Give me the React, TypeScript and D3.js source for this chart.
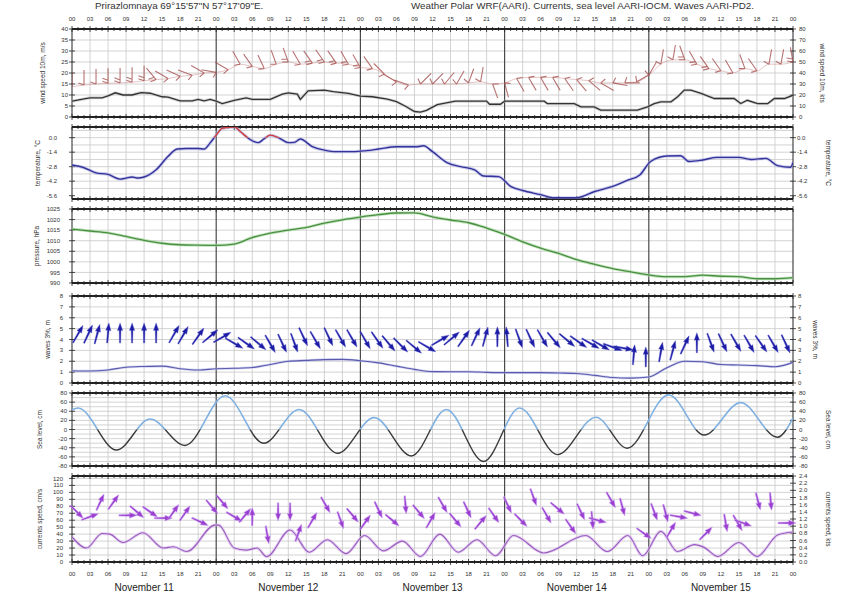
import React from 'react';
import * as d3 from 'd3';

const FONT = "'Liberation Sans', Arial, Helvetica, sans-serif";

const titleLeft = 'Prirazlomnaya 69°15\'57"N 57°17\'09"E.';
const titleRight = 'Weather Polar WRF(AARI). Currents, sea level AARI-IOCM. Waves AARI-PD2.';
const hourLabels = ['00', '03', '06', '09', '12', '15', '18', '21'];
const dayLabels = ['November 11', 'November 12', 'November 13', 'November 14', 'November 15'];

// wind speed 10 m, m/s
const windHours = [0,2,3,5,6,7.2,8.5,10,11.5,13,15,16,18,20,21,22,23,24,25,27,29,30,33,35,36,37.5,38,39.3,42,43.5,46,48,50,52.5,54,55.5,57,58,59,60.8,63.8,69,69.5,71.3,72,78.6,79.1,83.6,84.7,86.9,88,94.1,95.8,96.9,98,99.7,100.8,101.9,103,104.7,106.9,110.2,111.3,112.4,114.1,115.8,116.9,118.6,120];
const windSpeed = [7.2,8.2,8.7,8.7,9.6,11,10,10,11.1,10.8,9.2,9,7.3,7.3,8,7.3,8,7.2,6.1,7.6,8.7,8,8,10.4,11,10.4,8,11.9,12.2,11.5,10.7,9.5,9.2,8.1,7,4.9,2.5,2.2,3,5.6,7.2,7.2,5.8,5.8,7.2,7.2,6.1,6.1,4.6,4.6,3.1,3.1,4.6,6.1,6.9,6.9,9.2,12.2,12.2,10.7,8.4,8.4,6.1,7.6,6.1,6.1,8.4,8.4,9.9];

// wind barbs (every 2 h): anchor level (m/s axis), staff direction (deg clockwise from up)
const barbHours = d3.range(0, 121, 2);
const barbLevel = [13.8,14.5,15,15.3,15.5,15.8,16.5,17,17.5,18.5,19,20,20.3,
  21.5,24,23,22,24,25,24,24.5,25,24.5,24,22.5,22,19.5,16,14.5,
  15,15,15,15,15.5,16,15,15.5,
  17.5,18,18,18,17.5,17,16.5,15.5,15.5,15.5,16,19,
  24,26,26,24,22,21,20,22,21,24,24,25];
const barbDir = [0,0,0,0,0,0,0,-40,-60,-65,-70,-60,-80,
  -60,-30,-35,-25,-20,-20,-30,-35,-35,-35,-30,-30,-35,-45,-60,-70,
  45,45,40,30,20,10,160,165,
  150,150,150,150,145,140,130,120,100,90,60,30,
  10,10,-20,-30,-35,-35,-30,-20,-35,10,10,-10];

// temperature, °C
const tempHours = [0,2,4,6,8,9,10,11,12,14,16,17.5,19,21,22,23,24,25,27,28,29.7,31,32,33,34.5,36,37,38,40,42,44,47,49,51,54,57.5,58.5,60,62.4,64.7,67,68.5,71,73,75,78,80,84,87,90,92.5,94.5,96.3,99,101.3,102.7,105,107.4,111,113,115.5,117.4,119.6,120];
const tempValues = [-2.64,-2.9,-3.4,-3.55,-4.0,-3.9,-3.8,-3.9,-3.8,-3.1,-1.8,-1.1,-1.05,-1.05,-1.1,-0.5,0.25,0.9,1.05,0.6,-0.2,-0.48,-0.1,0.25,-0.05,-0.48,-0.45,-0.13,-0.87,-1.2,-1.35,-1.35,-1.25,-1.1,-0.87,-0.87,-0.78,-1.35,-2.4,-2.8,-3.1,-3.7,-3.76,-4.7,-5.1,-5.5,-5.8,-5.8,-5.2,-4.7,-4.1,-3.6,-2.3,-1.77,-1.75,-2.3,-2.15,-1.9,-1.9,-2.1,-2.0,-2.7,-2.86,-2.4];

// pressure, hPa
const pressHours = d3.range(0, 121, 3);
const pressValues = [1015.5,1014.6,1013.7,1012,1010.2,1008.8,1008.1,1007.9,1007.8,1008.4,1011.5,1013.6,1015,1016.3,1018.3,1019.9,1021.2,1022.3,1023.1,1023.2,1021.3,1019.8,1018.5,1016,1013,1009.5,1006.5,1004,1001,998.8,996.8,995.3,993.8,993,993,993.7,993.2,993,992,992,992.5];

// waves 3%, m
const waveHours = d3.range(0, 121, 3);
const waveHeight = [1.13,1.1,1.2,1.45,1.52,1.55,1.31,1.19,1.31,1.35,1.42,1.7,2.0,2.08,2.15,2.17,2.05,1.85,1.55,1.25,1.05,1.04,1.04,0.98,0.95,0.95,0.95,0.92,0.88,0.7,0.5,0.45,0.55,1.4,2.0,1.95,1.7,1.65,1.6,1.5,1.9];
const waveArrowHours = [1,2.7,4.2,6,8,10,12,14,17,18.5,21,23,25,27,29,31,33,35,37,38.5,40.5,42.7,44.7,46.6,48.8,50.8,52.7,54.7,56.9,59.1,61.3,63.2,65.2,67.2,68.8,70.8,72.4,74.4,76.3,78.3,80.2,82.4,84.3,86.3,88,90,91.8,93.5,95.5,98,100,102,104,106.3,108.3,110.5,112.7,114.7,116.7,118.8];
const waveArrowLevel = [4.5,4.5,4.5,4.6,4.6,4.6,4.6,4.6,4.5,4.4,4.3,4.3,4.2,3.65,3.65,3.65,3.6,3.65,3.7,4.25,3.94,4.25,4.1,4.1,3.94,3.94,3.64,3.49,3.33,3.33,3.94,4.1,4.1,4.25,4.25,4.25,4.25,4.1,4.1,4.1,3.94,3.94,3.79,3.64,3.49,3.3,3.2,2.6,2.4,2.85,3.0,3.5,3.7,3.7,3.7,3.7,3.6,3.6,3.6,3.6];
const waveArrowDir = [30,25,15,5,0,0,0,0,30,30,35,50,60,120,125,130,150,155,160,155,150,155,150,150,150,145,140,135,130,120,60,50,35,25,15,0,-5,160,155,150,140,130,125,120,120,110,100,5,0,10,15,25,0,160,155,150,150,145,150,155];

// sea level, cm (turning points)
const seaHours = [0,1,7.4,13,18.8,25.5,31.9,37.8,44.2,50.3,56.5,62.3,68.5,74.5,80.8,87.2,92.4,99.3,105.2,111.3,117.4,120];
const seaLevel = [43,47,-45,23,-35,74,-30,44,-52,26,-58,44,-70,47,-55,27,-41,76,-12,59,-17,25];

// currents speed, cm/s
const curHours = [0,2.4,5,6.3,8.5,11.8,15.2,16.9,19.1,23.8,24.4,27,29,30.8,32.4,36.3,39.5,42.5,45.6,48.7,51.8,55,58,61.2,64.3,67.4,70.5,73.5,78.5,85.5,89.1,92.5,95,98,100.8,103.6,105.2,107.5,111,114,117.5,120];
const curSpeed = [36,20,41,40,28,42,20,22,15,53,53,20,17,20,7.6,46,14,32,12,38,16,30,8,40,14,32,9,38,13,38,15,38,9,44,15,25,21,8,28,8,39,43];
const curArrowHours = [0.8,3,4.7,6.9,9.3,10.8,13,15.2,16.9,18.8,21.3,23.3,25,27,28.8,30,32.5,34.3,36.3,37.7,40,42.2,44.7,46.7,48.8,51,53.3,55.5,57.7,59.7,61.7,63.8,65.8,68,70.2,72.5,74.7,76.8,79,80.8,83,84.7,86.6,87.5,89.7,91.6,95.2,96.9,98.8,99.7,101,103.3,105.5,108.8,110.8,111.7,114.2,116.3,119];
const curArrowLevel = [72,65,86,86,67,72,72,63,72,70,58,79,86,65,67,65,39,72,72,42,60,82,60,67,57,75,60,82,72,60,82,60,75,57,67,82,60,93,67,77,51,72,60,60,89,79,41,72,70,46,65,70,41,56,56,56,87,87,56];
const curArrowDir = [135,70,25,35,90,130,125,90,35,35,115,140,140,120,40,0,170,180,180,20,30,150,160,140,35,155,130,175,140,30,150,140,155,40,145,155,135,160,150,130,145,155,175,105,150,165,125,160,165,30,100,105,45,170,150,110,165,175,90];

const X0 = 72, X1 = 793;

type Lab = { v: number; t: string };
interface FrameOpts {
  id: string; top: number; bottom: number; y: (v: number) => number;
  grid: number[]; left: Lab[]; leftX: number; right: { y: number; t: string }[]; rightX: number;
  leftTitle: string; leftTitleX: number; rightTitle?: string; rightTitleX?: number;
}

function Frame(o: FrameOpts, x: d3.ScaleLinear<number, number>) {
  const hours = d3.range(0, 121);
  const mid = (o.top + o.bottom) / 2;
  return (
    <g key={o.id}>
      {o.grid.map((v, i) => (
        <line key={'h' + i} x1={X0} x2={X1} y1={o.y(v)} y2={o.y(v)} stroke="#c8c8c8" strokeWidth={0.8} />
      ))}
      {d3.range(3, 120, 3).map((h) => (
        <line key={'v' + h} x1={x(h)} x2={x(h)} y1={o.top} y2={o.bottom}
          stroke={h % 24 === 0 ? '#4a4a4a' : '#c8c8c8'} strokeWidth={h % 24 === 0 ? 1.2 : 0.8} />
      ))}
      <line x1={X0} x2={X0} y1={o.top} y2={o.bottom} stroke="#222" strokeWidth={1} />
      <line x1={X1} x2={X1} y1={o.top} y2={o.bottom} stroke="#222" strokeWidth={1} />
      <line x1={X0} x2={X1} y1={o.top} y2={o.top} stroke="#222" strokeWidth={2} />
      <line x1={X0} x2={X1} y1={o.bottom} y2={o.bottom} stroke="#222" strokeWidth={2} />
      {hours.map((h) => {
        const l = h % 3 === 0 ? 3 : 2;
        return (
          <g key={'t' + h}>
            <line x1={x(h)} x2={x(h)} y1={o.top - l} y2={o.top + l} stroke="#222" strokeWidth={0.8} />
            <line x1={x(h)} x2={x(h)} y1={o.bottom - l} y2={o.bottom + l} stroke="#222" strokeWidth={0.8} />
          </g>
        );
      })}
      {o.left.map((l, i) => (
        <g key={'l' + i}>
          <line x1={X0 - 3} x2={X0 + 3} y1={o.y(l.v)} y2={o.y(l.v)} stroke="#222" strokeWidth={0.8} />
          <text x={o.leftX} y={o.y(l.v)} dy="0.35em" textAnchor="end" fontSize={6} fill="#333" fontFamily={FONT}>{l.t}</text>
        </g>
      ))}
      {o.right.map((r, i) => (
        <g key={'r' + i}>
          <line x1={X1 - 3} x2={X1 + 3} y1={r.y} y2={r.y} stroke="#222" strokeWidth={0.8} />
          <text x={o.rightX} y={r.y} dy="0.35em" textAnchor="start" fontSize={6} fill="#333" fontFamily={FONT}>{r.t}</text>
        </g>
      ))}
      <text transform={`translate(${o.leftTitleX},${mid}) rotate(-90)`} textAnchor="middle" fontSize={6.5} fill="#333" fontFamily={FONT}>{o.leftTitle}</text>
      {o.rightTitle ? (
        <text transform={`translate(${o.rightTitleX},${mid}) rotate(90)`} textAnchor="middle" fontSize={6.5} fill="#333" fontFamily={FONT}>{o.rightTitle}</text>
      ) : null}
    </g>
  );
}

const waveArrowPath = 'M0,-10 L2.6,-2.5 L0.9,-2.8 L0.6,10 L-0.6,10 L-0.9,-2.8 L-2.6,-2.5 Z';
const curArrowPath = 'M0,-9 L2.8,-1.5 L1,-1.8 L0.7,9 L-0.7,9 L-1,-1.8 L-2.8,-1.5 Z';

export default function App() {
  const x = d3.scaleLinear().domain([0, 120]).range([X0, X1]);
  const yW = d3.scaleLinear().domain([0, 40]).range([117, 29]);
  const yT = d3.scaleLinear().domain([-5.92, 1.03]).range([199, 127]);
  const yP = d3.scaleLinear().domain([990, 1025]).range([283, 209]);
  const yH = d3.scaleLinear().domain([0, 8]).range([383, 296]);
  const yS = d3.scaleLinear().domain([-80, 80]).range([466, 393]);
  const yC = d3.scaleLinear().domain([0, 123.47]).range([562, 476]);

  const windLine = d3.line<number>().x((d, i) => x(windHours[i])).y((d) => yW(d))(windSpeed) || '';
  const barbLine = d3.line<number>().x((d, i) => x(barbHours[i])).y((d) => yW(d)).curve(d3.curveMonotoneX)(barbLevel) || '';
  const tempLine = d3.line<number>().x((d, i) => x(tempHours[i])).y((d) => yT(d)).curve(d3.curveMonotoneX)(tempValues) || '';
  const pressLine = d3.line<number>().x((d, i) => x(pressHours[i])).y((d) => yP(d)).curve(d3.curveMonotoneX)(pressValues) || '';
  const waveLine = d3.line<number>().x((d, i) => x(waveHours[i])).y((d) => yH(d)).curve(d3.curveMonotoneX)(waveHeight) || '';
  const seaLine = d3.line<number>().x((d, i) => x(seaHours[i])).y((d) => yS(d)).curve(d3.curveMonotoneX)(seaLevel) || '';
  const curLine = d3.line<number>().x((d, i) => x(curHours[i])).y((d) => yC(d)).curve(d3.curveMonotoneX)(curSpeed) || '';

  const windInterp = (h: number) => {
    const i = d3.bisectLeft(windHours, h);
    if (i <= 0) return windSpeed[0];
    if (i >= windHours.length) return windSpeed[windSpeed.length - 1];
    const t = (h - windHours[i - 1]) / (windHours[i] - windHours[i - 1]);
    return windSpeed[i - 1] + t * (windSpeed[i] - windSpeed[i - 1]);
  };

  const barbs = barbHours.map((h, i) => {
    const bx = x(h), by = yW(barbLevel[i]);
    const r = (barbDir[i] * Math.PI) / 180;
    const ux = Math.sin(r), uy = -Math.cos(r);
    const L = 15;
    let d = `M${bx},${by}L${bx + ux * L},${by + uy * L}`;
    const kts = windInterp(h) * 1.944;
    const nF = kts >= 18 ? 2 : 1;
    const fr = r - (70 * Math.PI) / 180;
    const fx = Math.sin(fr), fy = -Math.cos(fr);
    for (let k = 0; k < nF; k++) {
      const sx = bx + ux * k * 3, sy = by + uy * k * 3;
      d += `M${sx},${sy}L${sx + fx * 6},${sy + fy * 6}`;
    }
    return <path key={'b' + i} d={d} stroke="#a65050" strokeWidth={1.1} fill="none" strokeOpacity={0.8} />;
  });

  const windTicks = d3.range(0, 41, 5);
  const tempTicks = [0, -1.4, -2.8, -4.2, -5.6];
  const tempGrid = d3.range(0, 9).map((k) => 0.7 - k * 0.7);
  const pressTicks = d3.range(990, 1026, 5);
  const waveTicks = d3.range(0, 9);
  const seaTicks = d3.range(-80, 81, 20);
  const seaGrid = d3.range(-80, 81, 10);
  const curTicks = d3.range(0, 121, 10);
  const ktsTicks = d3.range(0, 13).map((k) => k * 0.2);

  const frames: FrameOpts[] = [
    { id: 'wind', top: 29, bottom: 117, y: yW, grid: windTicks, left: windTicks.map((v) => ({ v, t: String(v) })), leftX: 68,
      right: d3.range(0, 81, 10).map((k) => ({ y: yW(k / 2), t: String(k) })), rightX: 799,
      leftTitle: 'wind speed 10m, m/s', leftTitleX: 45, rightTitle: 'wind speed 10m, kts', rightTitleX: 820 },
    { id: 'temp', top: 127, bottom: 199, y: yT, grid: tempGrid, left: tempTicks.map((v) => ({ v, t: v.toFixed(1) })), leftX: 57,
      right: tempTicks.map((v) => ({ y: yT(v), t: v.toFixed(1) })), rightX: 797,
      leftTitle: 'temperature, °C', leftTitleX: 40, rightTitle: 'temperature, °C', rightTitleX: 826 },
    { id: 'press', top: 209, bottom: 283, y: yP, grid: pressTicks, left: pressTicks.map((v) => ({ v, t: String(v) })), leftX: 60,
      right: [], rightX: 797, leftTitle: 'pressure, hPa', leftTitleX: 39 },
    { id: 'wave', top: 296, bottom: 383, y: yH, grid: waveTicks, left: waveTicks.map((v) => ({ v, t: String(v) })), leftX: 63,
      right: waveTicks.map((v) => ({ y: yH(v), t: String(v) })), rightX: 798,
      leftTitle: 'waves 3%, m', leftTitleX: 50, rightTitle: 'waves 3%, m', rightTitleX: 813 },
    { id: 'sea', top: 393, bottom: 466, y: yS, grid: seaGrid, left: seaTicks.map((v) => ({ v, t: String(v) })), leftX: 67,
      right: seaTicks.map((v) => ({ y: yS(v), t: String(v) })), rightX: 799,
      leftTitle: 'Sea level, cm', leftTitleX: 42, rightTitle: 'Sea level, cm', rightTitleX: 826 },
    { id: 'cur', top: 476, bottom: 562, y: yC, grid: curTicks, left: curTicks.map((v) => ({ v, t: String(v) })), leftX: 63,
      right: ktsTicks.map((k) => ({ y: yC(k * 51.444), t: k.toFixed(1) })), rightX: 799,
      leftTitle: 'currents speed, cm/s', leftTitleX: 42, rightTitle: 'currents speed, kts', rightTitleX: 826 },
  ];

  const hourTickHours = d3.range(0, 121, 3);

  return (
    <svg width={845} height={594} style={{ position: 'absolute', left: 0, top: 0, background: '#fff' }}>
      <defs>
        {frames.map((f) => (
          <clipPath key={'c' + f.id} id={'clip-' + f.id}>
            <rect x={X0} y={f.top} width={X1 - X0} height={f.bottom - f.top} />
          </clipPath>
        ))}
        <clipPath id="temp-above"><rect x={X0} y={127} width={X1 - X0} height={yT(0) - 127} /></clipPath>
        <clipPath id="temp-below"><rect x={X0} y={yT(0)} width={X1 - X0} height={199 - yT(0)} /></clipPath>
        <clipPath id="sea-above"><rect x={X0} y={393} width={X1 - X0} height={yS(0) - 393} /></clipPath>
        <clipPath id="sea-below"><rect x={X0} y={yS(0)} width={X1 - X0} height={466 - yS(0)} /></clipPath>
      </defs>
      <rect x={0} y={0} width={845} height={594} fill="#fff" />

      <text x={95} y={8.5} fontSize={9.8} fill="#333" fontFamily={FONT}>{titleLeft}</text>
      <text x={411} y={8.5} fontSize={9.8} fill="#333" fontFamily={FONT}>{titleRight}</text>

      {hourTickHours.map((h) => (
        <text key={'th' + h} x={x(h)} y={21} textAnchor="middle" fontSize={6} fill="#333" fontFamily={FONT}>
          {hourLabels[(h / 3) % 8]}
        </text>
      ))}
      {hourTickHours.map((h) => (
        <text key={'bh' + h} x={x(h)} y={576} textAnchor="middle" fontSize={6} fill="#333" fontFamily={FONT}>
          {hourLabels[(h / 3) % 8]}
        </text>
      ))}
      {dayLabels.map((d, i) => (
        <text key={'d' + i} x={x(i * 24 + 12)} y={591} textAnchor="middle" fontSize={10} fill="#222" fontFamily={FONT}>{d}</text>
      ))}

      {frames.map((f) => Frame(f, x))}

      {/* wind */}
      <g clipPath="url(#clip-wind)">
        <path d={barbLine} stroke="#c07070" strokeOpacity={0.4} strokeWidth={1} fill="none" />
        {barbs}
        <path d={windLine} stroke="#bbb" strokeWidth={3} fill="none" strokeOpacity={0.6} />
        <path d={windLine} stroke="#333" strokeWidth={1.3} fill="none" />
      </g>

      {/* temperature */}
      <g clipPath="url(#clip-temp)">
        <path d={tempLine} stroke="#a4a4e0" strokeWidth={3.2} fill="none" strokeOpacity={0.55} />
        <g clipPath="url(#temp-below)"><path d={tempLine} stroke="#34349a" strokeWidth={1.4} fill="none" /></g>
        <g clipPath="url(#temp-above)"><path d={tempLine} stroke="#d03a3a" strokeWidth={1.4} fill="none" /></g>
      </g>

      {/* pressure */}
      <g clipPath="url(#clip-press)">
        <path d={pressLine} stroke="#a8d8a0" strokeWidth={3} fill="none" strokeOpacity={0.7} />
        <path d={pressLine} stroke="#4a8f43" strokeWidth={1.3} fill="none" />
      </g>

      {/* waves */}
      <g clipPath="url(#clip-wave)">
        <path d={waveLine} stroke="#b8b8e8" strokeWidth={2.5} fill="none" strokeOpacity={0.6} />
        <path d={waveLine} stroke="#5a5aae" strokeWidth={1.1} fill="none" />
        {waveArrowHours.map((h, i) => (
          <path key={'wa' + i} d={waveArrowPath} fill="#1c1ca4" stroke="#5050c8" strokeWidth={0.4}
            transform={`translate(${x(h)},${yH(waveArrowLevel[i])}) rotate(${waveArrowDir[i]})`} />
        ))}
      </g>

      {/* sea level */}
      <g clipPath="url(#clip-sea)">
        <g clipPath="url(#sea-above)"><path d={seaLine} stroke="#7fb0e2" strokeWidth={1.6} fill="none" /></g>
        <g clipPath="url(#sea-below)"><path d={seaLine} stroke="#3a3a3a" strokeWidth={1.4} fill="none" /></g>
      </g>

      {/* currents */}
      <g clipPath="url(#clip-cur)">
        <path d={curLine} stroke="#dcc0ee" strokeWidth={3} fill="none" strokeOpacity={0.7} />
        <path d={curLine} stroke="#9a5cbf" strokeWidth={1.1} fill="none" />
      </g>
      {curArrowHours.map((h, i) => (
        <path key={'ca' + i} d={curArrowPath} fill="#9a3fd0" stroke="#c89af0" strokeWidth={0.5}
          transform={`translate(${x(h)},${yC(curArrowLevel[i])}) rotate(${curArrowDir[i]})`} />
      ))}
    </svg>
  );
}
